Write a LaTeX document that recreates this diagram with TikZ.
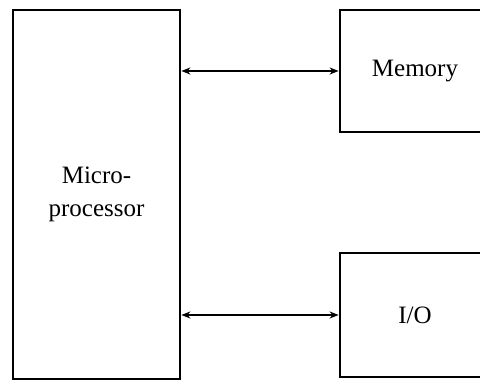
\documentclass[tikz,border=0pt]{standalone}
\usepackage{fontspec}
\setmainfont{Liberation Serif}
\usetikzlibrary{arrows.meta}
\begin{document}
\begin{tikzpicture}[x=1pt,y=1pt,
  blk/.style={draw=black,line width=2.8pt,fill=white,inner sep=0pt,
    font=\fontsize{25}{33}\selectfont,align=center},
  bus/.style={line width=1.5pt,{Stealth[length=9pt,width=7pt]}-{Stealth[length=9pt,width=7pt]}}]
\clip (0,0) rectangle (480,383);
\fill[white] (0,0) rectangle (480,383);
\node[blk,minimum width=167pt,minimum height=369pt] (micro) at (96.5,188.5) {Micro-\\processor};
\node[blk,minimum width=150pt,minimum height=122pt] (mem) at (415,312) {\raisebox{-3pt}{Memory}};
\node[blk,minimum width=150pt,minimum height=124pt] (io) at (415,68) {I/O};
\draw[bus] (micro.east |- mem.west) -- (mem.west);
\draw[bus] (micro.east |- io.west) -- (io.west);
\end{tikzpicture}
\end{document}
